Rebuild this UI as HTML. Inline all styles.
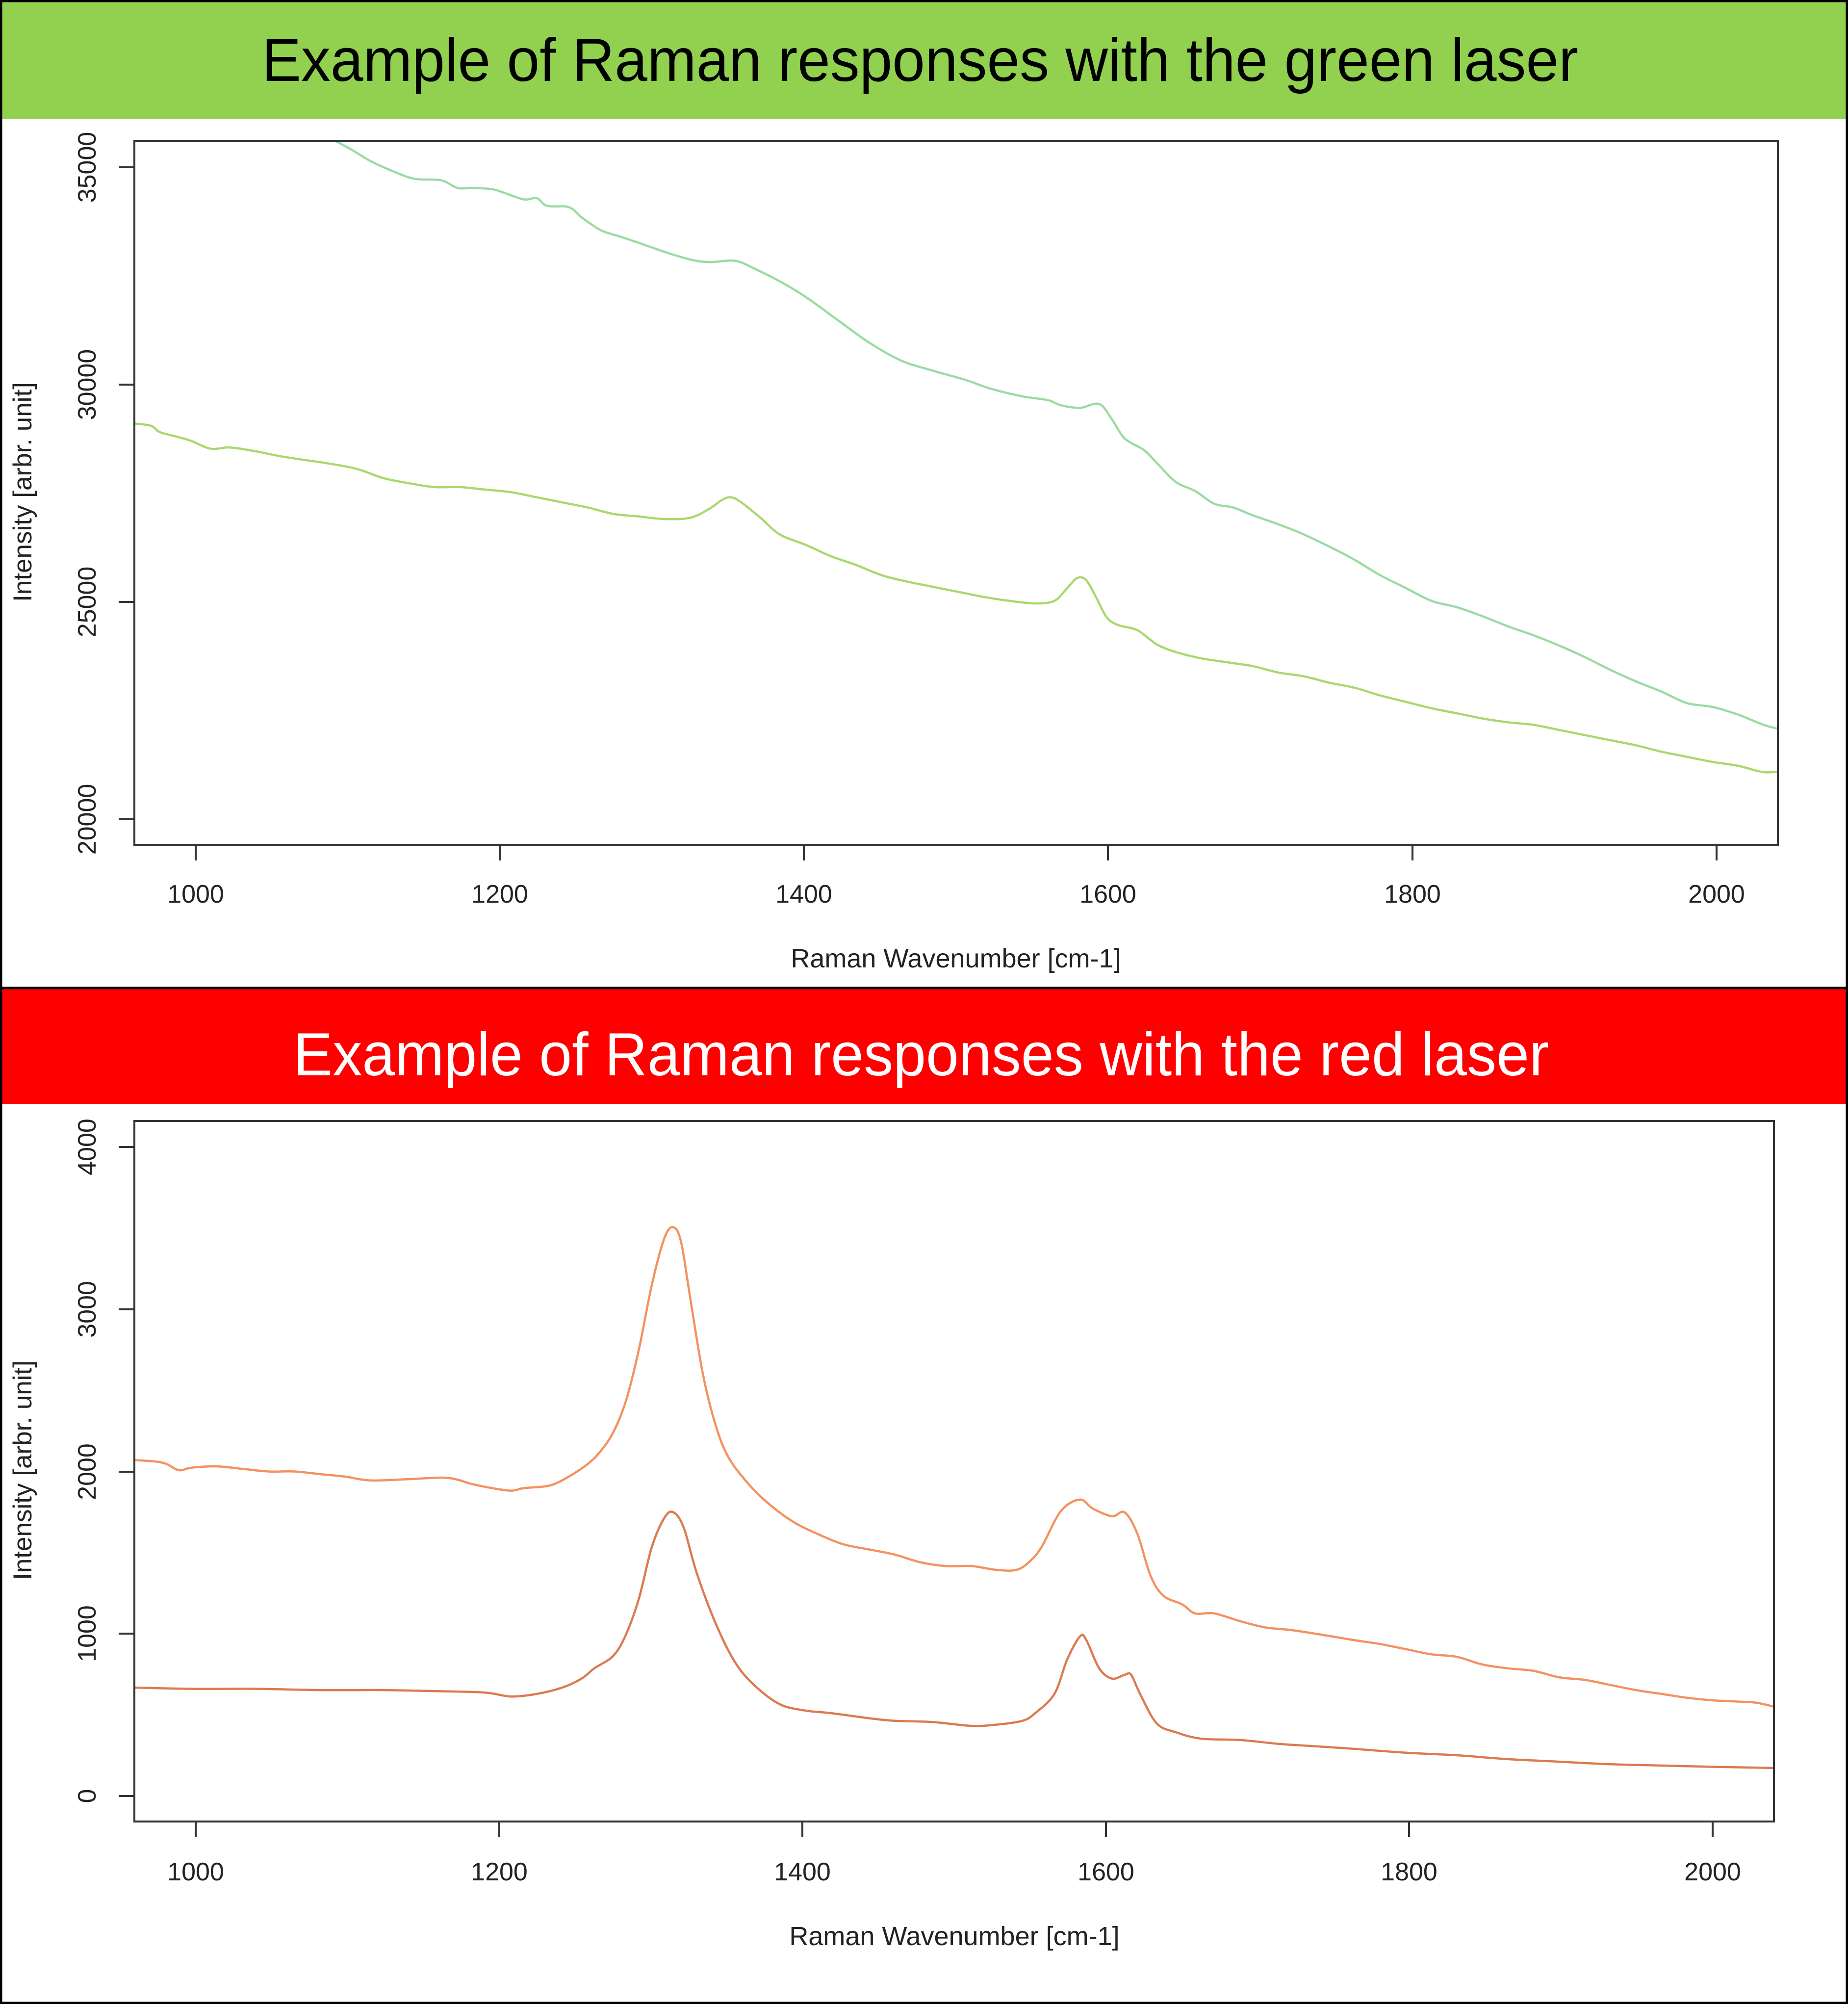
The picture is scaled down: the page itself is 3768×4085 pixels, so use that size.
<!DOCTYPE html>
<html><head><meta charset="utf-8"><style>
html,body{margin:0;padding:0;background:#fff}
svg{display:block}
</style></head><body>
<svg id="s" width="3768" height="4085" viewBox="0 0 3768 4085" xmlns="http://www.w3.org/2000/svg" font-family="Liberation Sans, sans-serif">
<rect x="0" y="0" width="3768" height="4085" fill="#fff"/>
<rect x="4" y="4" width="3760" height="238" fill="#92D050"/>
<rect x="4" y="2014" width="3760" height="236" fill="#FF0000"/>
<text x="1876" y="165" font-size="124" text-anchor="middle" textLength="2684" lengthAdjust="spacingAndGlyphs" fill="#000">Example of Raman responses with the green laser</text>
<text x="1878" y="2192" font-size="124" text-anchor="middle" textLength="2560" lengthAdjust="spacingAndGlyphs" fill="#fff">Example of Raman responses with the red laser</text>
<line x1="0" y1="2014" x2="3768" y2="2014" stroke="#000" stroke-width="5"/>
<rect x="2" y="2" width="3764" height="4081" fill="none" stroke="#000" stroke-width="5"/>
<defs>
<clipPath id="c1"><rect x="274" y="287" width="3351" height="1435"/></clipPath>
<clipPath id="c2"><rect x="274" y="2285" width="3343" height="1428"/></clipPath>
</defs>
<g id="plots"></g>
<g fill="#222" font-size="52">
<rect x="274" y="287" width="3351" height="1435" fill="none" stroke="#333" stroke-width="4"/>
<rect x="274" y="2285" width="3343" height="1428" fill="none" stroke="#333" stroke-width="4"/>
<g stroke="#333" stroke-width="4">
<line x1="399" y1="1722" x2="399" y2="1754"/><line x1="1019" y1="1722" x2="1019" y2="1754"/><line x1="1639" y1="1722" x2="1639" y2="1754"/><line x1="2259" y1="1722" x2="2259" y2="1754"/><line x1="2880" y1="1722" x2="2880" y2="1754"/><line x1="3500" y1="1722" x2="3500" y2="1754"/>
<line x1="242" y1="341" x2="274" y2="341"/><line x1="242" y1="784" x2="274" y2="784"/><line x1="242" y1="1227" x2="274" y2="1227"/><line x1="242" y1="1670" x2="274" y2="1670"/>
<line x1="399" y1="3713" x2="399" y2="3745"/><line x1="1018" y1="3713" x2="1018" y2="3745"/><line x1="1636" y1="3713" x2="1636" y2="3745"/><line x1="2255" y1="3713" x2="2255" y2="3745"/><line x1="2873" y1="3713" x2="2873" y2="3745"/><line x1="3492" y1="3713" x2="3492" y2="3745"/>
<line x1="242" y1="2338" x2="274" y2="2338"/><line x1="242" y1="2669" x2="274" y2="2669"/><line x1="242" y1="3000" x2="274" y2="3000"/><line x1="242" y1="3330" x2="274" y2="3330"/><line x1="242" y1="3661" x2="274" y2="3661"/>
</g>
<g text-anchor="middle">
<text x="399" y="1840">1000</text><text x="1019" y="1840">1200</text><text x="1639" y="1840">1400</text><text x="2259" y="1840">1600</text><text x="2880" y="1840">1800</text><text x="3500" y="1840">2000</text>
<text x="1949" y="1972" font-size="54">Raman Wavenumber [cm-1]</text>
<text transform="translate(195,341) rotate(-90)">35000</text>
<text transform="translate(195,784) rotate(-90)">30000</text>
<text transform="translate(195,1227) rotate(-90)">25000</text>
<text transform="translate(195,1670) rotate(-90)">20000</text>
<text transform="translate(64,1003) rotate(-90)" font-size="53">Intensity [arbr. unit]</text>
<text x="399" y="3833">1000</text><text x="1018" y="3833">1200</text><text x="1636" y="3833">1400</text><text x="2255" y="3833">1600</text><text x="2873" y="3833">1800</text><text x="3492" y="3833">2000</text>
<text x="1946" y="3965" font-size="54">Raman Wavenumber [cm-1]</text>
<text transform="translate(195,2338) rotate(-90)">4000</text>
<text transform="translate(195,2669) rotate(-90)">3000</text>
<text transform="translate(195,3000) rotate(-90)">2000</text>
<text transform="translate(195,3330) rotate(-90)">1000</text>
<text transform="translate(195,3661) rotate(-90)">0</text>
<text transform="translate(64,2997) rotate(-90)" font-size="53">Intensity [arbr. unit]</text>
</g>
</g>
</svg>
<script>
var K=2.606;
var series=[
{c:"#9ADBA3",clip:"c1",p:[[258,107],[262,110],[275,117],[290,126],[310,135],[325,140],[345,141],[358,147],[370,147],[385,148],[395,151],[410,156],[420,155],[428,161],[445,162],[455,170],[470,180],[485,185],[500,190],[520,197],[540,203],[555,205],[575,204],[590,210],[610,220],[630,232],[655,250],[680,268],[705,282],[730,290],[755,297],[775,304],[800,310],[820,313],[830,317],[845,319],[860,316],[870,328],[880,343],[895,352],[905,362],[920,377],[935,384],[950,394],[965,397],[980,403],[1000,410],[1020,418],[1045,430],[1060,438],[1080,450],[1100,460],[1120,470],[1140,475],[1160,482],[1180,490],[1200,497],[1220,505],[1240,514],[1260,524],[1280,533],[1300,541],[1320,550],[1340,553],[1360,559],[1380,567],[1395,571]]},
{c:"#A9D86E",clip:"c1",p:[[103,331],[118,333],[125,338],[140,342],[150,345],[165,351],[180,350],[200,353],[220,357],[240,360],[260,363],[280,367],[300,374],[320,378],[340,381],[360,381],[380,383],[400,385],[420,389],[440,393],[460,397],[480,402],[500,404],[520,406],[540,405],[555,398],[565,391],[572,389],[580,393],[595,405],[610,418],[630,426],[650,435],[670,442],[690,450],[710,455],[730,459],[750,463],[770,467],[790,470],[810,472],[825,470],[835,460],[843,452],[850,454],[858,468],[866,483],[875,489],[890,493],[905,504],[920,510],[940,515],[960,518],[980,521],[1000,526],[1020,529],[1040,534],[1060,538],[1080,544],[1100,549],[1120,554],[1140,558],[1160,562],[1180,565],[1200,567],[1220,571],[1240,575],[1260,579],[1280,583],[1300,588],[1320,592],[1340,596],[1360,599],[1380,604],[1395,603]]},
{c:"#F4925F",clip:"c2",p:[[103,1142],[120,1143],[130,1145],[140,1150],[150,1148],[170,1147],[190,1149],[210,1151],[230,1151],[250,1153],[270,1155],[290,1158],[320,1157],[350,1156],[370,1161],[385,1164],[400,1166],[410,1164],[430,1162],[445,1155],[460,1145],[470,1135],[480,1120],[490,1095],[500,1055],[510,1005],[520,968],[527,960],[533,972],[540,1015],[550,1075],[560,1115],[570,1140],[585,1160],[600,1175],[620,1190],[640,1200],[660,1208],[680,1212],[700,1216],[720,1222],[740,1225],[760,1225],[780,1228],[795,1228],[805,1222],[815,1210],[830,1182],[845,1173],[855,1180],[870,1186],[880,1183],[890,1200],[900,1232],[910,1248],[925,1255],[935,1262],[950,1262],[970,1268],[990,1273],[1010,1275],[1030,1278],[1060,1283],[1080,1286],[1100,1290],[1120,1294],[1140,1296],[1160,1302],[1180,1305],[1200,1307],[1220,1312],[1240,1314],[1260,1318],[1280,1322],[1300,1325],[1320,1328],[1340,1330],[1360,1331],[1375,1332],[1392,1336]]},
{c:"#DC7A50",clip:"c2",p:[[103,1320],[150,1321],[200,1321],[250,1322],[300,1322],[350,1323],[380,1324],[400,1327],[420,1325],[440,1320],[455,1313],[465,1305],[480,1295],[490,1278],[500,1250],[510,1210],[520,1187],[527,1183],[535,1195],[545,1230],[560,1270],[575,1300],[590,1318],[610,1333],[630,1338],[650,1340],[680,1344],[700,1346],[730,1347],[760,1350],[780,1349],[800,1346],[810,1340],[825,1325],[835,1298],[845,1280],[850,1283],[860,1305],[870,1313],[880,1310],[885,1310],[892,1325],[905,1348],[920,1355],[940,1360],[970,1361],[1000,1364],[1030,1366],[1060,1368],[1100,1371],[1140,1373],[1180,1376],[1220,1378],[1260,1380],[1300,1381],[1340,1382],[1392,1383]]}
];
var g=document.getElementById("plots"),ns="http://www.w3.org/2000/svg";
series.forEach(function(s){
 var p=s.p.map(function(q){return [q[0]*K,q[1]*K];});
 var d="M"+p[0][0].toFixed(1)+","+p[0][1].toFixed(1);
 for(var i=0;i<p.length-1;i++){
  var p0=p[i-1]||p[i],p1=p[i],p2=p[i+1],p3=p[i+2]||p2;
  var c1x=p1[0]+(p2[0]-p0[0])/6,c1y=p1[1]+(p2[1]-p0[1])/6;
  var c2x=p2[0]-(p3[0]-p1[0])/6,c2y=p2[1]-(p3[1]-p1[1])/6;
  d+="C"+c1x.toFixed(1)+","+c1y.toFixed(1)+" "+c2x.toFixed(1)+","+c2y.toFixed(1)+" "+p2[0].toFixed(1)+","+p2[1].toFixed(1);
 }
 var e=document.createElementNS(ns,"path");
 e.setAttribute("d",d);e.setAttribute("fill","none");e.setAttribute("stroke",s.c);
 e.setAttribute("stroke-width","4.5");e.setAttribute("clip-path","url(#"+s.clip+")");
 g.appendChild(e);
});
</script>
</body></html>
